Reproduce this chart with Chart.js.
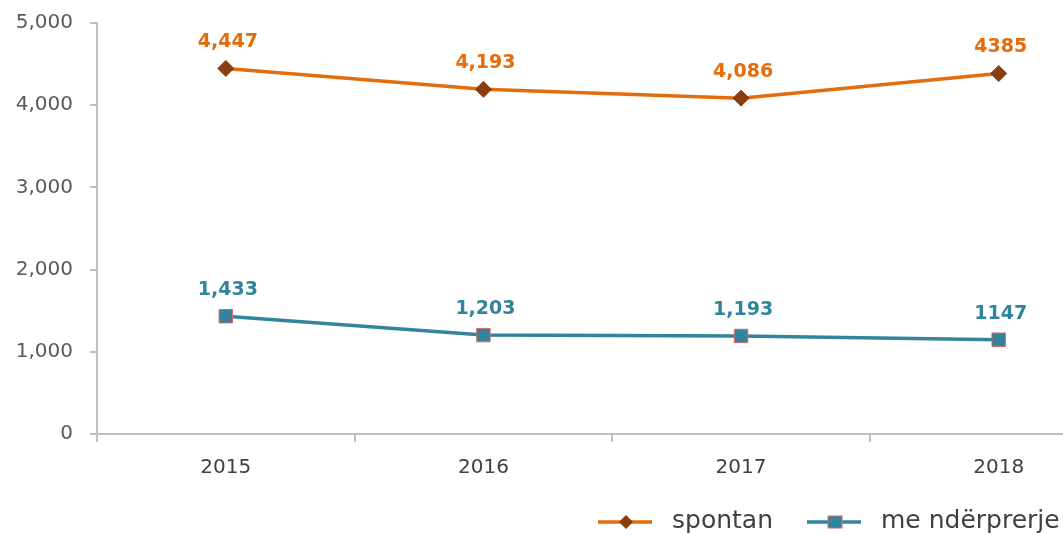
<!DOCTYPE html>
<html>
<head>
<meta charset="utf-8">
<script src="https://cdn.jsdelivr.net/npm/chart.js@4/dist/chart.umd.min.js"></script>
<style>
  html, body { margin: 0; padding: 0; background: #fff; overflow: hidden; }
  #wrap { width: 1138px; height: 535px; position: relative; }
</style>
</head>
<body>
<div id="wrap"><canvas id="chart"></canvas></div>
<script>
// -------------------- DATA --------------------
const years = ["2015", "2016", "2017", "2018"];
const spontan = [4447, 4193, 4086, 4385];
const meNderprerje = [1433, 1203, 1193, 1147];
const spontanLabels = ["4,447", "4,193", "4,086", "4385"];
const nderprerjeLabels = ["1,433", "1,203", "1,193", "1147"];
const yTicks = [0, 1000, 2000, 3000, 4000, 5000];

const FONT = "'DejaVu Sans', Verdana, sans-serif";
const ORANGE = "#e46c0a";
const BLUE = "#31849b";

// -------------------- PLUGINS --------------------
// value labels above each point
const valueLabels = {
  id: "valueLabels",
  afterDatasetsDraw(chart) {
    const ctx = chart.ctx;
    ctx.save();
    ctx.font = "bold 19px " + FONT;
    ctx.textAlign = "center";
    ctx.textBaseline = "middle";
    chart.data.datasets.forEach((ds, i) => {
      chart.getDatasetMeta(i).data.forEach((pt, j) => {
        ctx.fillStyle = ds.labelColor;
        ctx.fillText(ds.valueText[j], pt.x + 2, pt.y - 26);
      });
    });
    ctx.restore();
  }
};

// legend at the bottom right, line + marker + text
const bottomLegend = {
  id: "bottomLegend",
  afterDraw(chart) {
    const ctx = chart.ctx;
    const y = 522;
    const items = [
      { x: 598, text: "spontan", ds: chart.data.datasets[0] },
      { x: 807, text: "me ndërprerje", ds: chart.data.datasets[1] }
    ];
    ctx.save();
    items.forEach(it => {
      ctx.strokeStyle = it.ds.borderColor;
      ctx.lineWidth = 3.5;
      ctx.beginPath();
      ctx.moveTo(it.x, y);
      ctx.lineTo(it.x + 54, y);
      ctx.stroke();
      ctx.fillStyle = it.ds.pointBackgroundColor;
      ctx.strokeStyle = it.ds.pointBorderColor;
      ctx.lineWidth = 1;
      const cx = it.x + 28;
      if (it.ds.pointStyle === "rectRot") {
        ctx.beginPath();
        ctx.moveTo(cx, y - 7);
        ctx.lineTo(cx + 7, y);
        ctx.lineTo(cx, y + 7);
        ctx.lineTo(cx - 7, y);
        ctx.closePath();
        ctx.fill();
      } else {
        ctx.fillRect(cx - 7, y - 6, 14, 12);
        ctx.strokeRect(cx - 7, y - 6, 14, 12);
      }
      ctx.fillStyle = "#404040";
      ctx.font = "25px " + FONT;
      ctx.textBaseline = "middle";
      ctx.textAlign = "left";
      ctx.fillText(it.text, it.x + 74, y - 1);
    });
    ctx.restore();
  }
};

// -------------------- CHART --------------------
new Chart(document.getElementById("chart"), {
  type: "line",
  data: {
    labels: years,
    datasets: [
      {
        label: "spontan",
        data: spontan,
        valueText: spontanLabels,
        labelColor: ORANGE,
        borderColor: ORANGE,
        borderWidth: 3.5,
        pointStyle: "rectRot",
        pointRadius: 8,
        pointBackgroundColor: "#8a3e0e",
        pointBorderColor: "#8a3e0e",
        pointBorderWidth: 1,
        tension: 0
      },
      {
        label: "me ndërprerje",
        data: meNderprerje,
        valueText: nderprerjeLabels,
        labelColor: BLUE,
        borderColor: BLUE,
        borderWidth: 3.5,
        pointStyle: "rect",
        pointRadius: 9.5,
        pointBackgroundColor: BLUE,
        pointBorderColor: "#d9696b",
        pointBorderWidth: 1,
        tension: 0
      }
    ]
  },
  options: {
    responsive: true,
    maintainAspectRatio: false,
    animation: false,
    layout: { padding: { top: 23, right: 0, bottom: 51, left: 0 } },
    plugins: {
      legend: { display: false },
      tooltip: { enabled: false }
    },
    scales: {
      x: {
        offset: true,
        grid: {
          offset: true,
          drawOnChartArea: false,
          drawTicks: true,
          tickLength: 8,
          color: "#bfbfbf",
          lineWidth: 2
        },
        border: { color: "#bfbfbf", width: 2 },
        ticks: { color: "#404040", font: { family: FONT, size: 20 }, padding: 14 },
        afterFit(scale) { scale.height = 50; }
      },
      y: {
        min: 0,
        max: 5000,
        afterBuildTicks(scale) { scale.ticks = yTicks.map(v => ({ value: v })); },
        grid: {
          drawOnChartArea: false,
          drawTicks: true,
          tickLength: 7,
          color: "#bfbfbf",
          lineWidth: 2
        },
        border: { color: "#bfbfbf", width: 2 },
        ticks: {
          color: "#595959",
          font: { family: FONT, size: 20 },
          padding: 17,
          callback: v => v.toLocaleString("en-US")
        },
        afterFit(scale) {
          scale.width = 97;
          scale.paddingTop = 0;
          scale.paddingBottom = 0;
        }
      }
    }
  },
  plugins: [valueLabels, bottomLegend]
});
</script>
</body>
</html>
